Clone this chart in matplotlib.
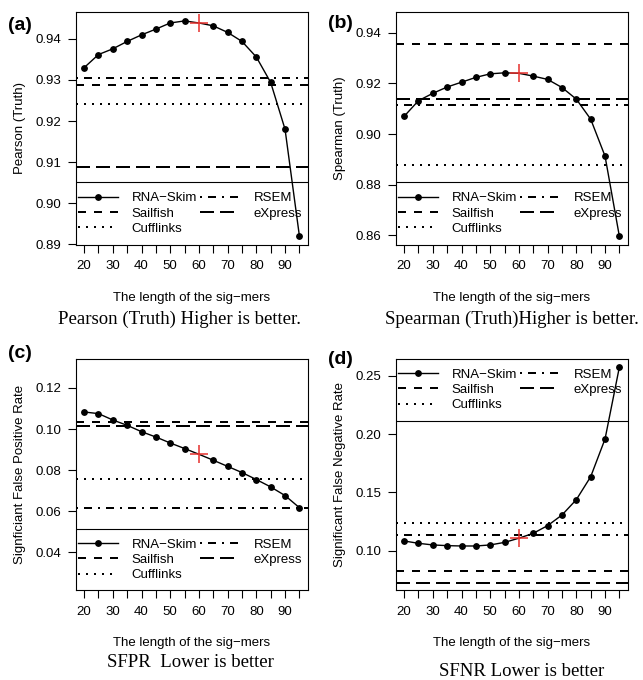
import matplotlib
matplotlib.use("Agg")
import matplotlib.pyplot as plt
from matplotlib.lines import Line2D

# sig-mer lengths on the x axis
sig_len = [20, 25, 30, 35, 40, 45, 50, 55, 60, 65, 70, 75, 80, 85, 90, 95]
x_tick_labels = ['20', '', '30', '', '40', '', '50', '', '60', '', '70', '', '80', '', '90', '']
chosen_len = 60

methods = ['Sailfish', 'Cufflinks', 'RSEM', 'eXpress']

# (a) Pearson
pearson_skim = [0.9330, 0.9362, 0.9376, 0.9394, 0.9410, 0.9424, 0.9439, 0.9444,
                0.9439, 0.9432, 0.9416, 0.9394, 0.9356, 0.9294, 0.9180, 0.8920]
pearson_methods = [0.9289, 0.9241, 0.9304, 0.9087]
pearson_yticks = [0.89, 0.90, 0.91, 0.92, 0.93, 0.94]

# (b) Spearman
spearman_skim = [0.9070, 0.9132, 0.9161, 0.9186, 0.9205, 0.9224, 0.9238, 0.9242,
                 0.9240, 0.9229, 0.9216, 0.9184, 0.9138, 0.9059, 0.8913, 0.8596]
spearman_methods = [0.9355, 0.8878, 0.9113, 0.9137]
spearman_yticks = [0.86, 0.88, 0.90, 0.92, 0.94]

# (c) SFPR
sfpr_skim = [0.1083, 0.1075, 0.1044, 0.1018, 0.0987, 0.0961, 0.0932, 0.0905,
             0.0877, 0.0848, 0.0818, 0.0788, 0.0754, 0.0718, 0.0676, 0.0617]
sfpr_methods = [0.1036, 0.0758, 0.0617, 0.1013]
sfpr_yticks = [0.04, 0.06, 0.08, 0.10, 0.12]

# (d) SFNR
sfnr_skim = [0.1083, 0.1063, 0.1049, 0.1043, 0.1040, 0.1040, 0.1049, 0.1071,
             0.1107, 0.1149, 0.1215, 0.1306, 0.1438, 0.1635, 0.1959, 0.2577]
sfnr_methods = [0.0825, 0.1237, 0.1134, 0.0725]
sfnr_yticks = [0.10, 0.15, 0.20, 0.25]

SANS = 'Liberation Sans'
SERIF = 'Liberation Serif'
FS = 9.5
LW = 1.44
styles = {'Sailfish': (0, (4, 4)), 'Cufflinks': (0, (1, 3)),
          'RSEM': (0, (1, 3, 4, 3)), 'eXpress': (0, (7, 3))}

W, H = 643, 680
fig = plt.figure(figsize=(W / 100, H / 100), dpi=100)


def px_axes(left, top, right, bottom):
    return fig.add_axes([left / W, 1 - bottom / H, (right - left) / W, (bottom - top) / H])


def draw_panel(ax, skim, refs, yticks, ylim, ylabel, leg_line, leg_y):
    for m, v in zip(methods, refs):
        ax.axhline(v, color='black', lw=LW, linestyle=styles[m], dash_capstyle='butt')
    ax.axhline(leg_line, color='black', lw=0.8)
    idx = [i for i, x in enumerate(sig_len) if x != chosen_len]
    ax.plot(sig_len, skim, color='black', lw=1.0, marker='o', ms=3.9, markevery=idx)
    k = sig_len.index(chosen_len)
    ax.plot([chosen_len], [skim[k]], marker='+', ms=12.5, mew=1.1, color='#e5302c', zorder=5)

    ax.set_xlim(17, 98)
    ax.set_ylim(*ylim)
    ax.set_xticks(sig_len)
    ax.set_xticklabels(x_tick_labels)
    ax.set_yticks(yticks)
    ax.set_yticklabels(['%.2f' % t for t in yticks])
    ax.tick_params(direction='out', length=6, width=0.8, labelsize=FS)
    ax.tick_params(axis='x', pad=5.5)
    ax.tick_params(axis='y', pad=4.5)
    for lab in ax.get_xticklabels() + ax.get_yticklabels():
        lab.set_fontfamily(SANS)
    for s in ax.spines.values():
        s.set_linewidth(0.8)
    ax.set_xlabel('The length of the sig\u2212mers', fontsize=FS, family=SANS)
    ax.set_ylabel(ylabel, fontsize=FS, family=SANS)
    ax.xaxis.set_label_coords(0.5, -0.205)
    ax.yaxis.set_label_coords(-0.215, 0.5)

    handles = [Line2D([], [], color='black', lw=1.0, marker='o', ms=3.9),
               Line2D([], [], color='black', lw=LW, linestyle=styles['Sailfish']),
               Line2D([], [], color='black', lw=LW, linestyle=styles['Cufflinks']),
               Line2D([], [], color='black', lw=LW, linestyle=styles['RSEM']),
               Line2D([], [], color='black', lw=LW, linestyle=styles['eXpress'])]
    labels = ['RNA\u2212Skim', 'Sailfish', 'Cufflinks', 'RSEM', 'eXpress']
    ax.legend(handles, labels, ncol=2, loc='center left', bbox_to_anchor=(0.012, leg_y),
              frameon=False, borderpad=0, borderaxespad=0, handlelength=3.0,
              handletextpad=1.05, columnspacing=0.25, labelspacing=0.22,
              prop={'family': SANS, 'size': FS})


ax_a = px_axes(75.5, 12.3, 308, 244.5)
draw_panel(ax_a, pearson_skim, pearson_methods, pearson_yticks, (0.8899, 0.9465),
           'Pearson (Truth)', 0.9051, 0.1335)
ax_b = px_axes(395.5, 12.3, 628, 244.5)
draw_panel(ax_b, spearman_skim, spearman_methods, spearman_yticks, (0.8564, 0.9481),
           'Spearman (Truth)', 0.8809, 0.1335)
ax_c = px_axes(75.5, 359, 308, 590)
draw_panel(ax_c, sfpr_skim, sfpr_methods, sfpr_yticks, (0.0216, 0.1341),
           'Signficiant False Positive Rate', 0.0515, 0.13)
ax_d = px_axes(395.5, 359, 628, 590)
draw_panel(ax_d, sfnr_skim, sfnr_methods, sfnr_yticks, (0.0662, 0.2646),
           'Significant False Negative Rate', 0.2114, 0.866)

panel_labels = [('(a)', 8, 25), ('(b)', 328, 23), ('(c)', 8, 353), ('(d)', 328, 360)]
for txt, x, y in panel_labels:
    fig.text(x / W, 1 - y / H, txt, fontsize=14, fontweight='bold', family=SANS,
             ha='left', va='center')

captions = [('Pearson (Truth) Higher is better.', 180, 319),
            ('Spearman (Truth)Higher is better.', 511.7, 319),
            ('SFPR  Lower is better', 190, 662.7),
            ('SFNR Lower is better', 521.5, 671)]
for txt, x, y in captions:
    fig.text(x / W, 1 - y / H, txt, fontsize=13.5, family=SERIF, ha='center', va='center')

fig.savefig('out.png', dpi=100)
